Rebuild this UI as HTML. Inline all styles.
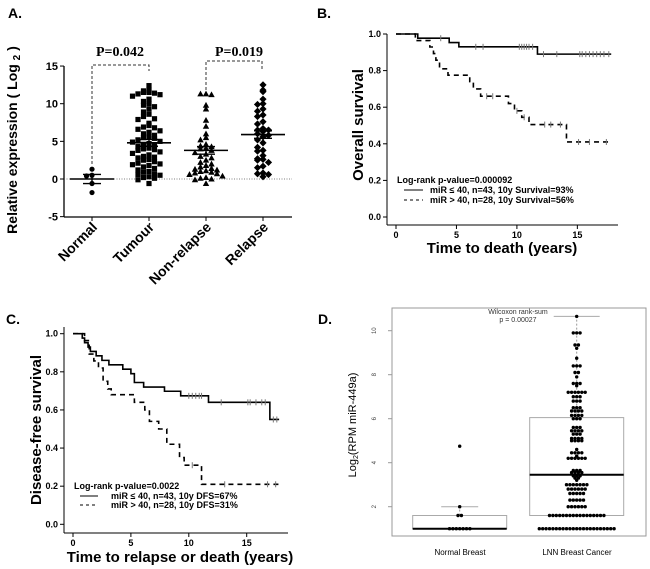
<!DOCTYPE html>
<html><head><meta charset="utf-8"><style>
html,body{margin:0;padding:0;background:#fff;}
svg{display:block;font-family:"Liberation Sans",Arial,sans-serif;}
</style></head><body>
<svg id="fig" width="650" height="569" viewBox="0 0 650 569" xmlns="http://www.w3.org/2000/svg">
<g font-weight="bold">
 <text x="8" y="18" font-size="14">A.</text>
 <line x1="64" y1="66" x2="64" y2="217" stroke="#000" stroke-width="1.3"/>
 <line x1="64" y1="217" x2="292" y2="217" stroke="#000" stroke-width="1.3"/>
 <line x1="64" y1="179" x2="292" y2="179" stroke="#555" stroke-width="0.8" stroke-dasharray="1,1.5"/>
 <g id="aTicks" font-size="11" text-anchor="end"></g>
 <text transform="translate(17,140) rotate(-90)" text-anchor="middle" font-size="14">Relative expression ( Log <tspan font-size="10" dy="3">2</tspan><tspan dy="-3"> )</tspan></text>
 <g id="aCats" font-size="14" text-anchor="end"></g>
 <path d="M92 164 V65 H149 V71" fill="none" stroke="#333" stroke-dasharray="3,2"/>
 <path d="M206 90 V61 H262 V70" fill="none" stroke="#333" stroke-dasharray="3,2"/>
 <text x="120" y="56" font-family="'Liberation Serif',serif" font-size="14" text-anchor="middle">P=0.042</text>
 <text x="239" y="56" font-family="'Liberation Serif',serif" font-size="14" text-anchor="middle">P=0.019</text>
 <g id="aDots"></g>
</g>
<g font-weight="bold">
 <text x="317" y="18" font-size="14">B.</text>
 <line x1="387" y1="34" x2="387" y2="225" stroke="#000"/>
 <line x1="387" y1="225" x2="618" y2="225" stroke="#000"/>
 <g id="bTicks" font-size="9"></g>
 <text x="502" y="253" font-size="15" text-anchor="middle">Time to death (years)</text>
 <text transform="translate(363,125) rotate(-90)" font-size="15" text-anchor="middle">Overall survival</text>
 <g id="bPlot"></g>
 <text x="397" y="183" font-size="9">Log-rank p-value=0.000092</text>
 <line x1="404" y1="190" x2="423" y2="190" stroke="#000"/>
 <line x1="404" y1="200" x2="423" y2="200" stroke="#000" stroke-dasharray="3,3"/>
 <text x="430" y="193" font-size="9">miR ≤ 40, n=43, 10y Survival=93%</text>
 <text x="430" y="203" font-size="9">miR &gt; 40, n=28, 10y Survival=56%</text>
</g>
<g font-weight="bold">
 <text x="6" y="324" font-size="14">C.</text>
 <line x1="64" y1="327" x2="64" y2="533" stroke="#000"/>
 <line x1="64" y1="533" x2="288" y2="533" stroke="#000"/>
 <g id="cTicks" font-size="9"></g>
 <text x="180" y="562" font-size="15" text-anchor="middle">Time to relapse or death (years)</text>
 <text transform="translate(41,430) rotate(-90)" font-size="15" text-anchor="middle">Disease-free survival</text>
 <g id="cPlot"></g>
 <text x="74" y="489" font-size="9">Log-rank p-value=0.0022</text>
 <line x1="80" y1="496" x2="98" y2="496" stroke="#000"/>
 <line x1="80" y1="505" x2="98" y2="505" stroke="#000" stroke-dasharray="3,3"/>
 <text x="111" y="499" font-size="9">miR ≤ 40, n=43, 10y DFS=67%</text>
 <text x="111" y="508" font-size="9">miR &gt; 40, n=28, 10y DFS=31%</text>
</g>
<g>
 <text x="318" y="324" font-size="14" font-weight="bold">D.</text>
 <rect x="392" y="308" width="254" height="228" fill="none" stroke="#999"/>
 <g id="dTicks" font-size="6" fill="#444"></g>
 <text transform="translate(356,425) rotate(-90)" font-size="11" text-anchor="middle">Log<tspan font-size="7" dy="2">2</tspan><tspan dy="-2">(RPM miR-449a)</tspan></text>
 <text x="460" y="555" font-size="8" text-anchor="middle">Normal Breast</text>
 <text x="577" y="555" font-size="8" text-anchor="middle">LNN Breast Cancer</text>
 <text x="518" y="314" font-size="7" fill="#333" text-anchor="middle">Wilcoxon rank-sum</text>
 <text x="518" y="322" font-size="7" fill="#333" text-anchor="middle">p = 0.00027</text>
 <g id="dPlot"></g>
</g>
</svg>
<script>
// ---------- Panel A data ----------
const aCategories = ["Normal","Tumour","Non-relapse","Relapse"];
const aTickValues = [15,10,5,0,-5];
const aNormal = [1.3,0.5,0.4,-0.6,-1.8];
const aTumour = [12.4,11.8,11.7,11.5,11.5,11.4,11.3,11.2,10.6,10.3,10.0,9.8,9.6,9.3,8.6,8.3,8.0,7.9,7.4,7.1,6.8,6.6,6.4,6.2,6.0,5.8,5.6,5.4,5.2,5.0,4.9,4.7,4.5,4.3,4.1,4.0,3.8,3.6,3.4,3.2,3.0,2.8,2.6,2.5,2.3,2.1,2.0,1.8,1.6,1.4,1.2,1.0,0.9,0.7,0.5,0.3,0.2,0.1,-0.1,-0.6,5.5,4.6,3.9,2.9,1.9,0.6,6.9,8.9,11.0];
const aNonRelapse = [11.3,11.2,11.3,9.8,9.3,7.8,7.0,6.0,5.5,5.2,4.6,4.4,4.3,4.1,4.0,3.8,3.5,3.3,3.0,2.8,2.5,2.2,2.0,1.8,1.6,1.4,1.3,1.2,1.1,1.0,0.9,0.8,0.6,0.4,0.2,0.0,-0.1,-0.6,0.1,0.7];
const aRelapse = [12.5,11.8,11.6,10.6,10.0,9.9,9.3,9.0,8.5,8.3,7.6,7.3,6.7,6.5,6.5,6.3,6.0,5.8,5.6,5.2,4.8,4.2,3.8,3.7,3.1,2.7,2.6,2.5,2.2,1.7,1.5,0.8,0.7,0.3,0.6];
const aMeans = [0,4.8,3.8,5.9];
const aSems = [0.6,0.45,0.5,0.5];
// ---------- Panel B data ----------
const bTicksY = [0,0.2,0.4,0.6,0.8,1.0];
const bTicksX = [0,5,10,15];
const bLowSteps = [[1.8,0.977],[4.4,0.953],[5.2,0.93],[11.7,0.89]];
const bLowCensor = [3.7,6.6,7.2,10.2,10.4,10.6,10.8,11.0,11.3,12.2,13.3,15.2,15.4,15.7,16.0,16.3,16.6,16.9,17.2,17.6];
const bHighSteps = [[1.6,0.964],[2.8,0.929],[3.1,0.893],[3.3,0.857],[3.6,0.81],[4.3,0.775],[6.1,0.74],[6.4,0.70],[7.0,0.66],[9.3,0.62],[9.8,0.58],[10.4,0.545],[11.0,0.505],[14.1,0.41]];
const bHighCensor = [7.5,8.0,10.0,10.6,12.3,12.8,13.6,15.1,16.0,17.4];
const bEnd = 17.8;
// ---------- Panel C data ----------
const cTicksY = [0,0.2,0.4,0.6,0.8,1.0];
const cTicksX = [0,5,10,15];
const cLowSteps = [[0.8,0.977],[1.0,0.953],[1.3,0.93],[1.5,0.907],[2.0,0.884],[2.5,0.86],[3.1,0.837],[4.3,0.814],[5.0,0.79],[5.3,0.744],[6.1,0.72],[7.9,0.698],[9.3,0.674],[11.7,0.64],[17.0,0.55]];
const cLowCensor = [10.0,10.3,10.6,10.9,11.1,12.8,15.1,15.3,15.8,16.3,16.6,17.3,17.6];
const cHighSteps = [[1.0,0.964],[1.4,0.893],[1.8,0.857],[2.2,0.82],[2.6,0.75],[3.0,0.71],[3.3,0.68],[5.3,0.64],[6.2,0.6],[6.6,0.54],[7.4,0.5],[8.1,0.42],[9.2,0.35],[9.6,0.31],[11.1,0.21]];
const cHighCensor = [10.3,13.1,16.8,17.5];
const cEnd = 17.8;
// ---------- Panel D data ----------
const dTicks = [2,4,6,8,10];
const dNormal = [1,1,1,1,1,1,1,1.6,1.6,2,4.75];
const dNormalBox = [1,1,1.6,2];   // q1, median, q3, whisker top
const dLnnCounts = [[1,23],[1.6,17],[2,6],[2.3,5],[2.6,5],[2.8,6],[3.0,7],[3.2,1],[3.3,2],[3.4,3],[3.55,4],[3.65,3],[4.2,6],[4.3,1],[4.45,4],[4.6,1],[5.0,4],[5.1,4],[5.3,3],[5.45,4],[5.6,3],[6.0,3],[6.15,4],[6.35,4],[6.5,3],[6.8,3],[7.0,3],[7.2,6],[7.5,1],[7.6,3],[7.9,1],[8.1,2],[8.4,3],[8.75,1],[9.2,1],[9.35,2],[9.9,3],[10.65,1]];
const dLnnBox = [1.6,3.45,6.05,10.65];

const NS="http://www.w3.org/2000/svg";
function mk(parent,tag,attrs,txt){const e=document.createElementNS(NS,tag);for(const k in attrs)e.setAttribute(k,attrs[k]);if(txt!==undefined)e.textContent=txt;parent.appendChild(e);return e;}

// ---- Panel A ----
const yA=v=>179-v*7.53;
const xA=i=>92+i*57;
const aT=document.getElementById('aTicks');
aTickValues.forEach(v=>{
 const t=mk(aT,'text',{x:58,y:yA(v)+4},String(v));
 
 
 const l=mk(aT,'line',{x1:60,x2:64,y1:yA(v),y2:yA(v),stroke:'#000'});
 
 
});
const aC=document.getElementById('aCats');
aCategories.forEach((c,i)=>{
 const l=mk(aC,'line',{x1:xA(i),x2:xA(i),y1:217,y2:221,stroke:'#000'});
 
 
 const t=mk(aC,'text',{transform:`translate(${xA(i)+6},${228}) rotate(-45)`},c);
 
 
});
const aD=document.getElementById('aDots');
function swarm(vals,cx,binSize,step){
 const bins={};const out=[];
 vals.slice().sort((a,b)=>b-a).forEach(v=>{
  const b=Math.round(v/binSize);bins[b]=(bins[b]||0)+1;const k=bins[b]-1;
  const off=(k%2===0?1:-1)*Math.ceil(k/2)*step;
  out.push([cx+off+(k===0?0:0),v]);
 });
 return out;
}
function marker(g,shape,x,y){
 let e;
 if(shape==='circle'){e=mk(g,'circle',{cx:x,cy:y,r:2.6,fill:'#000'});}
 else if(shape==='square'){e=mk(g,'rect',{x:x-2.6,y:y-2.6,width:5.2,height:5.2,fill:'#000'});}
 else if(shape==='tri'){e=mk(g,'polygon',{points:`${x},${y-3.3} ${x-3.2},${y+2.5} ${x+3.2},${y+2.5}`,fill:'#000'});}
 else {e=mk(g,'polygon',{points:`${x},${y-3.6} ${x+3.6},${y} ${x},${y+3.6} ${x-3.6},${y}`,fill:'#000'});}
 return e;
}
[[aNormal,'circle'],[aTumour,'square'],[aNonRelapse,'tri'],[aRelapse,'diamond']].forEach(([vals,sh],i)=>{
 const pts=swarm(vals,xA(i),0.75,5.5);
 pts.forEach(([x,v])=>{
  const e=marker(aD,sh,x,yA(v));
  
  
 });
 const m=mk(aD,'line',{x1:xA(i)-22,x2:xA(i)+22,y1:yA(aMeans[i]),y2:yA(aMeans[i]),stroke:'#000','stroke-width':1.6});
 
 
 const s=mk(aD,'path',{d:`M${xA(i)-9} ${yA(aMeans[i]+aSems[i])} H${xA(i)+9} M${xA(i)} ${yA(aMeans[i]+aSems[i])} V${yA(aMeans[i]-aSems[i])} M${xA(i)-9} ${yA(aMeans[i]-aSems[i])} H${xA(i)+9}`,stroke:'#000','stroke-width':1.4,fill:'none'});
 
 
});

// ---- KM helper ----
function km(g,steps,censor,end,xs,ys,dashed,name){
 let d=`M${xs(0)} ${ys(1)}`;
 steps.forEach(([t,s])=>{d+=` H${xs(t)} V${ys(s)}`;});
 d+=` H${xs(end)}`;
 const p=mk(g,'path',{d,fill:'none',stroke:'#000','stroke-width':1.6});
 if(dashed)p.setAttribute('stroke-dasharray','5,4');
 
 
 censor.forEach(t=>{
  let s=1;steps.forEach(([tt,ss])=>{if(tt<=t)s=ss;});
  const c=mk(g,'line',{x1:xs(t),x2:xs(t),y1:ys(s)-3,y2:ys(s)+3,stroke:'#777','stroke-width':1});
  
  
 });
}
function axes(g,tx,ty,xs,ys,axY,axX,labelX,labelY){
 ty.forEach(v=>{
  const l=mk(g,'line',{x1:axX-4,x2:axX,y1:ys(v),y2:ys(v),stroke:'#000'});
  
  
  const t=mk(g,'text',{x:labelX,y:ys(v)+3,'text-anchor':'end'},v.toFixed(1));
  
  
 });
 tx.forEach(v=>{
  const l=mk(g,'line',{x1:xs(v),x2:xs(v),y1:axY,y2:axY+4,stroke:'#000'});
  
  
  const t=mk(g,'text',{x:xs(v),y:labelY,'text-anchor':'middle'},String(v));
  
  
 });
}
// ---- Panel B ----
const xB=t=>396+t*12.09, yB=s=>217-s*183;
axes(document.getElementById('bTicks'),bTicksX,bTicksY,xB,yB,225,387,381,238);
const bP=document.getElementById('bPlot');
km(bP,bLowSteps,bLowCensor,bEnd,xB,yB,false,'b-low');
km(bP,bHighSteps,bHighCensor,bEnd,xB,yB,true,'b-high');
// ---- Panel C ----
const xC=t=>73+t*11.58, yC=s=>524.3-s*190.6;
axes(document.getElementById('cTicks'),cTicksX,cTicksY,xC,yC,533,64,58,546);
const cP=document.getElementById('cPlot');
km(cP,cLowSteps,cLowCensor,cEnd,xC,yC,false,'c-low');
km(cP,cHighSteps,cHighCensor,cEnd,xC,yC,true,'c-high');
// ---- Panel D ----
const yD=v=>506.7-(v-2)*22;
const dT=document.getElementById('dTicks');
dTicks.forEach(v=>{
 const l=mk(dT,'line',{x1:388,x2:392,y1:yD(v),y2:yD(v),stroke:'#999'});
 
 
 const t=mk(dT,'text',{transform:`translate(376,${yD(v)}) rotate(-90)`,'text-anchor':'middle'},String(v));
 
 
});
const dP=document.getElementById('dPlot');
function box(cx,half,capHalf,b,name){
 const w=mk(dP,'line',{x1:cx,x2:cx,y1:yD(b[2]),y2:yD(b[3]),stroke:'#999','stroke-dasharray':'2,2'});
 
 
 const cap=mk(dP,'line',{x1:cx-capHalf,x2:cx+capHalf,y1:yD(b[3]),y2:yD(b[3]),stroke:'#aaa'});
 
 
 const r=mk(dP,'rect',{x:cx-half,y:yD(b[2]),width:half*2,height:yD(b[0])-yD(b[2]),fill:'none',stroke:'#aaa'});
 
 
 const m=mk(dP,'line',{x1:cx-half,x2:cx+half,y1:yD(b[1]),y2:yD(b[1]),stroke:'#000','stroke-width':2});
 
 
}
box(459.7,47,18.5,dNormalBox,'d-normal');
box(576.7,47,23,dLnnBox,'d-lnn');
function rowDots(cx,v,n,name){
 for(let k=0;k<n;k++){
  const x=cx+(k-(n-1)/2)*3.4;
  const c=mk(dP,'circle',{cx:x,cy:yD(v),r:1.7,fill:'#000'});
  
  
 }
}
const dNormCounts={};dNormal.forEach(v=>{dNormCounts[v]=(dNormCounts[v]||0)+1;});
Object.keys(dNormCounts).forEach(v=>rowDots(459.7,+v,dNormCounts[v],'d-normal-point'));
dLnnCounts.forEach(([v,n])=>rowDots(576.7,v,n,'d-lnn-point'));
</script>
</body></html>
